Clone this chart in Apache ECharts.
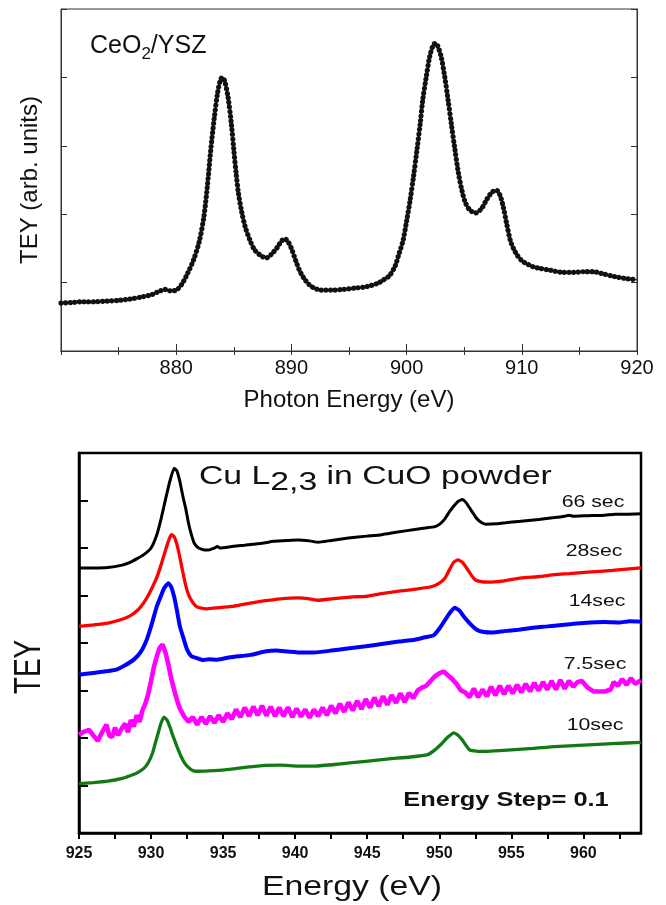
<!DOCTYPE html>
<html>
<head>
<meta charset="utf-8">
<script src="https://cdn.jsdelivr.net/npm/echarts@6/dist/echarts.min.js"></script>
<style>
html, body { margin: 0; padding: 0; background: #fff; }
#main { width: 666px; height: 905px; }
</style>
</head>
<body>
<div id="main"></div>
<script>
var FONT = 'Liberation Sans, Arial, sans-serif';

// ---- top panel: CeO2/YSZ, Ce M4,5 edge ----
var ceE = [870, 871, 872, 873, 874, 875, 876, 877, 877.8, 878.5, 879, 879.5, 880, 880.5, 881, 881.5,
  882, 882.4, 882.7, 883, 883.3, 883.6, 883.85, 884, 884.2, 884.5, 884.8, 885, 885.2, 885.4, 885.7,
  886, 886.4, 886.8, 887.3, 887.8, 888.3, 888.8, 889.1, 889.4, 889.7, 890, 890.4, 890.7, 891.1, 891.6,
  892, 892.5, 893.5, 894.5, 895.5, 896.5, 897.5, 898, 898.5, 899, 899.3, 899.7, 900, 900.3, 900.6,
  900.9, 901.2, 901.4, 901.7, 902, 902.3, 902.5, 902.7, 903, 903.3, 903.6, 903.9, 904.2, 904.5, 904.8,
  905.1, 905.5, 906, 906.5, 906.9, 907.4, 907.8, 908.1, 908.4, 908.7, 909, 909.3, 909.6, 910, 910.5,
  911, 911.5, 912.5, 913.5, 914.5, 915.5, 916.2, 917, 918, 919, 920];
var ceTey = [0.70, 0.71, 0.72, 0.72, 0.73, 0.74, 0.76, 0.79, 0.82, 0.87, 0.90, 0.88, 0.89, 0.98, 1.14, 1.33,
  1.60, 1.96, 2.40, 2.94, 3.40, 3.78, 3.97, 4.00, 3.95, 3.71, 3.30, 2.94, 2.60, 2.31, 2.02,
  1.81, 1.62, 1.48, 1.40, 1.36, 1.42, 1.52, 1.60, 1.64, 1.60, 1.50, 1.31, 1.18, 1.06, 0.96,
  0.92, 0.89, 0.89, 0.90, 0.92, 0.94, 0.99, 1.04, 1.10, 1.24, 1.40, 1.62, 1.90, 2.20, 2.55,
  2.94, 3.35, 3.67, 4.00, 4.30, 4.47, 4.50, 4.46, 4.30, 4.02, 3.67, 3.30, 2.94, 2.60, 2.35,
  2.17, 2.06, 2.02, 2.08, 2.20, 2.32, 2.35, 2.28, 2.10, 1.85, 1.62, 1.49, 1.40, 1.32, 1.27,
  1.23, 1.21, 1.18, 1.15, 1.15, 1.16, 1.16, 1.13, 1.09, 1.06, 1.04];

// ---- bottom panel: Cu L2,3 in CuO powder (curves stacked, arbitrary offsets) ----
var cuNames = ['66 sec', '28sec', '14sec', '7.5sec', '10sec'];
var cuColors = ['#000000', '#ff0000', '#0000ff', '#ff00ff', '#127a12'];
var cuTicks = [925, 927.5, 930, 932.5, 935, 937.5, 940, 942.5, 945, 947.5, 950, 952.5, 955, 957.5, 960, 962.5];
var cuTickLabels = [925, 930, 935, 940, 945, 950, 955, 960];

var e66 = [925, 926, 927, 928, 928.5, 929, 929.5, 930, 930.4, 930.7, 931, 931.3, 931.6, 931.8, 932, 932.2,
  932.4, 932.6, 932.8, 933, 933.3, 933.7, 934, 934.4, 934.6, 934.8, 935.6, 936.5, 937.7, 938.5, 939.5,
  940.2, 941, 941.6, 942.5, 943.7, 945, 946, 947, 948.3, 949, 949.7, 950.1, 950.4, 950.7, 951, 951.3,
  951.6, 951.9, 952.2, 952.6, 952.9, 953.2, 954, 954.6, 955.5, 956.9, 958, 958.7, 959, 959.3, 960.3,
  961.5, 962.2, 963, 964];
var y66 = [5.58, 5.58, 5.59, 5.64, 5.69, 5.77, 5.86, 6.00, 6.28, 6.62, 7.02, 7.40, 7.68, 7.62, 7.40, 7.10,
  6.84, 6.52, 6.28, 6.10, 6.00, 5.96, 5.96, 6.00, 6.03, 6.00, 6.03, 6.06, 6.10, 6.14, 6.16,
  6.17, 6.15, 6.12, 6.16, 6.21, 6.25, 6.28, 6.33, 6.39, 6.42, 6.45, 6.52, 6.62, 6.76, 6.88, 6.98,
  7.02, 6.94, 6.80, 6.62, 6.54, 6.50, 6.51, 6.53, 6.56, 6.60, 6.64, 6.67, 6.69, 6.67, 6.68,
  6.69, 6.71, 6.71, 6.72];

var e28 = [925, 926, 927, 928, 928.6, 929.1, 929.5, 929.8, 930.1, 930.4, 930.7, 931, 931.2, 931.4, 931.6,
  931.8, 932, 932.2, 932.4, 932.6, 932.9, 933.2, 933.8, 934.5, 935.6, 936.5, 937.7, 939, 940.2, 941,
  941.6, 942.5, 944, 944.9, 946, 947.2, 948.5, 949.5, 950, 950.4, 950.7, 951, 951.3, 951.6, 951.9,
  952.2, 952.5, 952.9, 953.4, 954.5, 955.7, 957, 958, 959, 960.3, 962, 964];
var y28 = [4.35, 4.38, 4.42, 4.50, 4.58, 4.70, 4.85, 5.00, 5.18, 5.38, 5.65, 5.95, 6.14, 6.28, 6.24,
  6.07, 5.80, 5.50, 5.22, 5.02, 4.85, 4.76, 4.72, 4.74, 4.77, 4.82, 4.88, 4.93, 4.95, 4.93,
  4.90, 4.93, 4.97, 4.98, 5.04, 5.09, 5.14, 5.19, 5.26, 5.37, 5.54, 5.70, 5.75, 5.70, 5.58,
  5.44, 5.33, 5.29, 5.28, 5.31, 5.37, 5.40, 5.44, 5.46, 5.49, 5.53, 5.58];

var e14 = [925, 926, 927, 927.6, 928.2, 928.8, 929.3, 929.7, 930, 930.4, 930.7, 930.9, 931.2, 931.4, 931.6,
  931.8, 932, 932.3, 932.5, 932.8, 933.2, 933.6, 934, 934.6, 935.5, 936.9, 937.9, 938.7, 939.5, 940.5,
  941.3, 942.5, 943.5, 944.9, 946, 947.2, 948.3, 949, 949.6, 950, 950.5, 950.8, 951.1, 951.4, 951.7,
  952.1, 952.6, 953.1, 953.7, 954.5, 955.5, 956.5, 957.5, 958.5, 960, 961.5, 962.5, 963.2, 964];
var y14 = [3.33, 3.37, 3.41, 3.44, 3.53, 3.65, 3.82, 4.07, 4.35, 4.77, 5.00, 5.15, 5.26, 5.18, 4.98,
  4.68, 4.35, 4.05, 3.86, 3.72, 3.68, 3.64, 3.66, 3.65, 3.70, 3.75, 3.82, 3.84, 3.82, 3.80,
  3.80, 3.84, 3.88, 3.93, 3.98, 4.03, 4.07, 4.12, 4.16, 4.30, 4.53, 4.66, 4.74, 4.68, 4.56,
  4.42, 4.28, 4.23, 4.22, 4.25, 4.28, 4.32, 4.35, 4.38, 4.42, 4.44, 4.43, 4.46, 4.45];

var e75 = [925, 925.4, 925.7, 926, 926.3, 926.6, 926.9, 927.1, 927.3, 927.5, 927.7, 928, 928.2, 928.4, 928.6,
  928.8, 929, 929.2, 929.4, 929.6, 929.8, 930, 930.2, 930.4, 930.6, 930.8, 931, 931.2, 931.4, 931.6,
  931.8, 932, 932.3, 932.6, 932.9, 933.2, 933.5, 933.8, 934.1, 934.4, 934.7, 935, 935.3, 935.6, 935.9,
  936.2, 936.5, 936.8, 937.1, 937.4, 937.7, 938, 938.3, 938.6, 938.9, 939.2, 939.5, 939.8, 940.1, 940.4,
  940.7, 941, 941.3, 941.6, 941.9, 942.2, 942.5, 942.8, 943.1, 943.4, 943.7, 944, 944.3, 944.6, 944.9,
  945.2, 945.5, 945.8, 946.1, 946.4, 946.7, 947, 947.3, 947.6, 947.9, 948.2, 948.5, 948.8, 949.1, 949.4,
  949.7, 950, 950.3, 950.6, 950.9, 951.2, 951.5, 951.8, 952.1, 952.4, 952.7, 953, 953.3, 953.6, 953.9,
  954.2, 954.5, 954.8, 955.1, 955.4, 955.7, 956, 956.3, 956.6, 956.9, 957.2, 957.5, 957.8, 958.1, 958.4,
  958.7, 959, 959.3, 959.6, 959.9, 960.3, 960.7, 961.1, 961.5, 961.9, 962.1, 962.4, 962.7, 963, 963.3,
  963.6, 964];
var y75 = [2.07, 2.14, 2.17, 2.05, 1.94, 2.12, 2.28, 2.05, 2.02, 2.22, 2.06, 2.22, 2.30, 2.12, 2.38,
  2.24, 2.48, 2.34, 2.58, 2.72, 2.92, 3.20, 3.50, 3.72, 3.90, 3.97, 3.80, 3.55, 3.25, 3.02,
  2.80, 2.62, 2.45, 2.34, 2.44, 2.28, 2.44, 2.30, 2.46, 2.32, 2.48, 2.34, 2.52, 2.40, 2.60,
  2.44, 2.64, 2.46, 2.66, 2.48, 2.68, 2.47, 2.66, 2.46, 2.64, 2.46, 2.65, 2.44, 2.62, 2.45,
  2.60, 2.43, 2.60, 2.46, 2.64, 2.48, 2.68, 2.52, 2.72, 2.55, 2.75, 2.58, 2.78, 2.61, 2.82,
  2.64, 2.85, 2.67, 2.88, 2.70, 2.90, 2.74, 2.94, 2.76, 2.95, 2.84, 3.00, 3.06, 3.10, 3.20,
  3.30, 3.36, 3.40, 3.32, 3.24, 3.14, 3.00, 2.96, 2.86, 3.04, 2.86, 3.02, 2.88, 3.08, 2.90,
  3.10, 2.92, 3.10, 2.94, 3.12, 2.96, 3.14, 2.98, 3.16, 3.00, 3.18, 3.02, 3.20, 3.02, 3.22,
  3.04, 3.20, 3.08, 3.18, 3.20, 3.06, 2.98, 2.98, 2.98, 3.02, 3.18, 3.10, 3.24, 3.12, 3.26,
  3.14, 3.22];

var e10 = [925, 926, 927, 928, 928.5, 929, 929.5, 929.8, 930.1, 930.3, 930.5, 930.7, 930.9, 931.1, 931.3,
  931.5, 931.8, 932.1, 932.4, 932.8, 933.1, 934, 935.1, 936.5, 937.7, 939, 940.2, 941.4, 943, 944.9,
  946.5, 948, 949.2, 949.7, 950.2, 950.6, 951, 951.3, 951.6, 952.1, 952.7, 953.4, 955, 956.5, 958,
  960, 962, 964];
var y10 = [1.04, 1.06, 1.09, 1.15, 1.20, 1.26, 1.36, 1.48, 1.68, 1.90, 2.11, 2.32, 2.44, 2.38, 2.24,
  2.06, 1.82, 1.60, 1.44, 1.33, 1.30, 1.31, 1.33, 1.38, 1.42, 1.43, 1.41, 1.41, 1.45, 1.51,
  1.56, 1.60, 1.65, 1.75, 1.89, 2.02, 2.11, 2.06, 1.96, 1.75, 1.72, 1.72, 1.75, 1.78, 1.82,
  1.85, 1.88, 1.91];

function zip(xs, ys) {
  var out = [];
  for (var i = 0; i < xs.length; i++) out.push([xs[i], ys[i]]);
  return out;
}

var cuX = [e66, e28, e14, e75, e10];
var cuY = [y66, y28, y14, y75, y10];
var cuWidth = [3, 3.3, 4, 4.6, 3.3];
// where the labels sit over each curve (pixel centres)
var labelPos = [[593, 502], [594, 551], [597, 601], [595, 664], [595, 725]];

var myChart = echarts.init(document.getElementById('main'));

var series = [
  {
    type: 'line', xAxisIndex: 0, yAxisIndex: 0,
    data: zip(ceE, ceTey), showSymbol: false, smooth: 0.3, silent: true,
    lineStyle: {color: '#111', width: 1.2}
  },
  {
    // beaded look of the measured points
    type: 'line', xAxisIndex: 0, yAxisIndex: 0,
    data: zip(ceE, ceTey), showSymbol: false, smooth: 0.3, silent: true,
    lineStyle: {color: '#111', width: 5.2, type: [0.01, 4.6], cap: 'round'}
  }
];
for (var i = 0; i < cuNames.length; i++) {
  series.push({
    name: cuNames[i],
    type: 'line', xAxisIndex: 2, yAxisIndex: 2,
    data: zip(cuX[i], cuY[i]), showSymbol: false, silent: true,
    smooth: i == 3 ? false : 0.15,
    lineStyle: {color: cuColors[i], width: cuWidth[i]}
  });
}

var graphic = [
  {
    type: 'text', x: 90, y: 46,
    style: {
      text: '{a|CeO}{s|2}{a|/YSZ}',
      rich: {
        a: {fontSize: 25, fontFamily: FONT, fill: '#111', color: '#111'},
        s: {fontSize: 17, fontFamily: FONT, fill: '#111', color: '#111', padding: [16, 0, 0, 0]}
      },
      align: 'left', verticalAlign: 'middle'
    }
  },
  {
    type: 'text', x: 199, y: 477, scaleX: 1.35,
    style: {
      text: '{a|Cu L}{s|2,3}{a| in CuO powder}',
      rich: {
        a: {fontSize: 25, fontFamily: FONT, fill: '#111', color: '#111'},
        s: {fontSize: 25, fontFamily: FONT, fill: '#111', color: '#111', padding: [12, 0, 0, 0]}
      },
      align: 'left', verticalAlign: 'middle'
    }
  },
  {
    type: 'text', x: 506, y: 800, scaleX: 1.27,
    style: {text: 'Energy Step= 0.1', font: 'bold 20px ' + FONT, fill: '#111',
      align: 'center', verticalAlign: 'middle'}
  },
  {
    type: 'text', x: 352, y: 888, scaleX: 1.25,
    style: {text: 'Energy (eV)', font: '27px ' + FONT, fill: '#111',
      align: 'center', verticalAlign: 'middle'}
  },
  {
    type: 'text', x: 30, y: 667, rotation: Math.PI / 2, scaleY: 1.3,
    style: {text: 'TEY', font: '28px ' + FONT, fill: '#111',
      align: 'center', verticalAlign: 'middle'}
  }
];
for (var k = 0; k < cuNames.length; k++) {
  graphic.push({
    type: 'text', x: labelPos[k][0], y: labelPos[k][1], scaleX: 1.25,
    style: {text: cuNames[k], font: '17px ' + FONT, fill: '#111',
      align: 'center', verticalAlign: 'middle'}
  });
}

option = {
  animation: false,
  backgroundColor: '#fff',
  grid: [
    {left: 61, top: 9, width: 576, height: 342, show: true, borderColor: '#333', borderWidth: 1},
    {left: 79, top: 453, width: 562, height: 380, show: true, borderColor: '#000', borderWidth: 2.5}
  ],
  xAxis: [
    {
      gridIndex: 0, type: 'value', min: 870, max: 920, interval: 10, position: 'bottom',
      axisLine: {show: true, lineStyle: {color: '#333', width: 1}},
      axisTick: {show: true, inside: true, length: 7, lineStyle: {color: '#333'}},
      minorTick: {show: true, splitNumber: 2, length: 4, lineStyle: {color: '#333'}},
      splitLine: {show: false},
      axisLabel: {showMinLabel: false, fontSize: 20, color: '#111', fontFamily: FONT, margin: 7},
      name: 'Photon Energy (eV)', nameLocation: 'middle', nameGap: 37,
      nameTextStyle: {fontSize: 24, color: '#111', fontFamily: FONT}
    },
    {
      gridIndex: 0, type: 'value', min: 870, max: 920, interval: 5, position: 'top',
      axisLine: {show: true, lineStyle: {color: '#333', width: 1}},
      axisTick: {show: true, inside: true, length: 4, lineStyle: {color: '#333'}},
      axisLabel: {show: false}, splitLine: {show: false}
    },
    {
      gridIndex: 1, type: 'value', min: 925, max: 964, position: 'bottom',
      axisLine: {show: true, lineStyle: {color: '#000', width: 2.5}},
      axisTick: {show: true, customValues: cuTicks, length: 6, lineStyle: {color: '#000', width: 2}},
      axisLabel: {customValues: cuTickLabels, fontSize: 16, fontWeight: 'bold', color: '#111',
        fontFamily: FONT, margin: 13},
      splitLine: {show: false}
    }
  ],
  yAxis: [
    {
      gridIndex: 0, type: 'value', min: 0, max: 5, interval: 1, position: 'left',
      axisLine: {show: true, lineStyle: {color: '#333', width: 1}},
      axisTick: {show: true, inside: true, length: 6, lineStyle: {color: '#333'}},
      axisLabel: {show: false}, splitLine: {show: false},
      name: 'TEY (arb. units)', nameLocation: 'middle', nameGap: 19, nameRotate: 90,
      nameTextStyle: {fontSize: 24, color: '#111', fontFamily: FONT}
    },
    {
      gridIndex: 0, type: 'value', min: 0, max: 5, interval: 1, position: 'right',
      axisLine: {show: true, lineStyle: {color: '#333', width: 1}},
      axisTick: {show: true, inside: true, length: 6, lineStyle: {color: '#333'}},
      axisLabel: {show: false}, splitLine: {show: false}
    },
    {
      gridIndex: 1, type: 'value', min: 0, max: 8, interval: 1, position: 'left',
      axisLine: {show: true, lineStyle: {color: '#000', width: 2.5}},
      axisTick: {show: true, inside: true, length: 9, lineStyle: {color: '#000', width: 2}},
      axisLabel: {show: false}, splitLine: {show: false}
    }
  ],
  graphic: graphic,
  series: series
};

myChart.setOption(option);
</script>
</body>
</html>
